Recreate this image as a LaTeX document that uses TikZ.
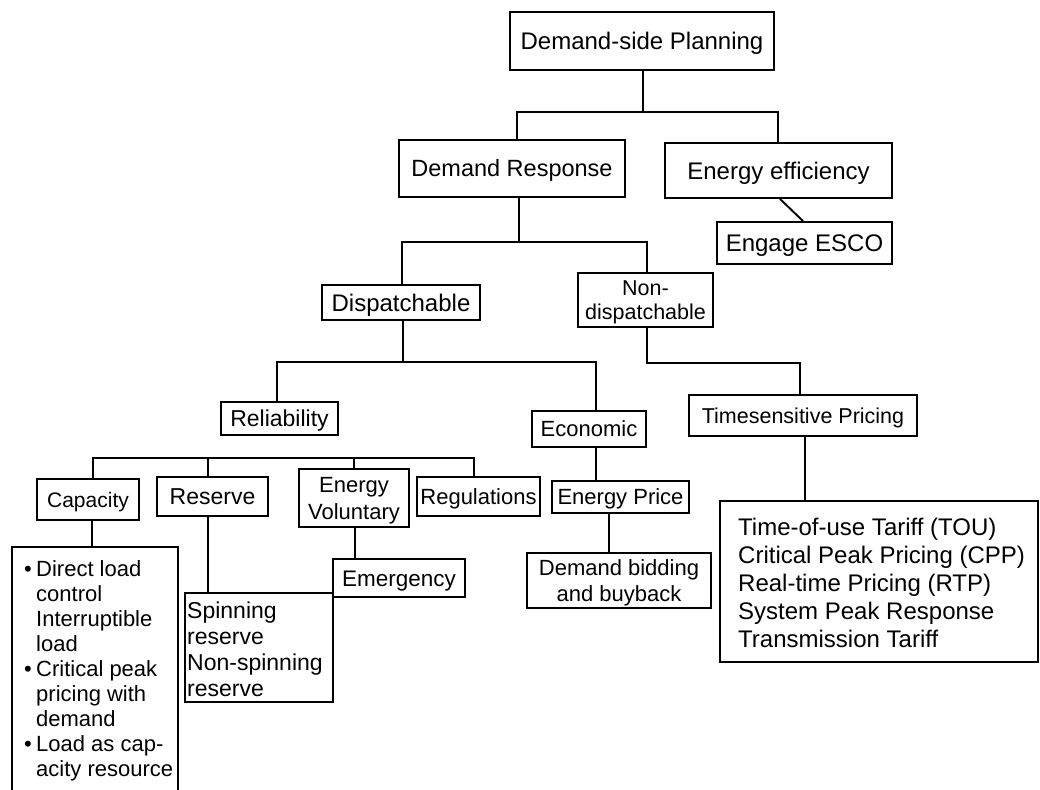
\documentclass[tikz,border=0pt]{standalone}
\usepackage{fontspec}
\setmainfont{Liberation Sans}
\newcommand\fsz[2]{\fontsize{#1pt}{#2pt}\selectfont}
\tikzset{
  conn/.style={line width=1.9pt},
  box/.style={draw, line width=1.9pt, inner sep=0pt, align=center, font=\fsz{#1}{#1}, text height={#1*0.72pt}, text depth=0pt},
  box2/.style n args={2}{draw, line width=1.9pt, inner sep=0pt, align=center, font=\fsz{#1}{#2}, text height={#1*0.72pt+#2*1pt}, text depth=0pt},
  frame/.style={draw, line width=1.9pt, inner sep=0pt},
  listtext/.style n args={3}{inner sep=0pt, align=left, anchor=north west, font=\fsz{#1}{#2}, text height={#1*0.72pt+(#3-1)*#2*1pt}, text depth=0pt}
}
\begin{document}
\begin{tikzpicture}[x=1pt,y=-1pt]
\fill[white] (0,0) rectangle (1040,789);
\useasboundingbox (0,0) rectangle (1040,789);

% boxes
\node[box=24, minimum width=264pt, minimum height=58pt] (dsp) at (642,41) {Demand-side Planning};
\node[box=23.5, minimum width=226pt, minimum height=57pt] (dr) at (512,168.5) {Demand Response};
\node[box=24, minimum width=227pt, minimum height=55pt] (ee) at (778.5,170.5) {Energy efficiency};
\node[box=24, minimum width=175pt, minimum height=42pt] (esco) at (804.5,243) {Engage ESCO};
\node[box=24, minimum width=158pt, minimum height=35pt] (disp) at (401,302.5) {Dispatchable};
\node[box2={21.5}{24}, minimum width=135pt, minimum height=54pt] (nondisp) at (645.5,300) {Non-\\dispatchable};
\node[box=23, minimum width=117pt, minimum height=33pt] (rel) at (279.5,418.5) {Reliability};
\node[box=22, minimum width=114pt, minimum height=36pt] (eco) at (589,429) {Economic};
\node[box=21.5, minimum width=228pt, minimum height=41pt] (tsp) at (803,415.5) {Timesensitive Pricing};
\node[box=21, minimum width=102pt, minimum height=41pt] (cap) at (88,499.5) {Capacity};
\node[box=23, minimum width=111pt, minimum height=39pt] (res) at (212.5,496.5) {Reserve};
\node[box2={22}{27}, minimum width=110pt, minimum height=58pt] (ev) at (354,498) {Energy\\Voluntary};
\node[box=22, minimum width=123pt, minimum height=39pt] (reg) at (478.5,496.5) {Regulations};
\node[box=22, minimum width=137pt, minimum height=32pt] (ep) at (620.5,497) {Energy Price};
\node[box2={22}{26}, minimum width=184pt, minimum height=55pt] (dbb) at (619,580.5) {Demand bidding\\and buyback};

% list boxes
\node[frame, minimum width=166pt, minimum height=248pt] (capl) at (95,671) {};
\node[listtext={22}{25}{9}] (capt) at (24,560) {\makebox[12pt][l]{•}Direct load\\\hspace*{12pt}control\\\hspace*{12pt}Interruptible\\\hspace*{12pt}load\\\makebox[12pt][l]{•}Critical peak\\\hspace*{12pt}pricing with\\\hspace*{12pt}demand\\\makebox[12pt][l]{•}Load as cap-\\\hspace*{12pt}acity resource};
\node[frame, minimum width=148pt, minimum height=109pt] (spin) at (259,647.5) {};
\node[listtext={23}{26}{4}] (spint) at (187,601.7) {Spinning\\reserve\\Non-spinning\\reserve};
\node[box=22.5, fill=white, minimum width=132pt, minimum height=38pt] (emer) at (399,578) {Emergency};
\node[frame, minimum width=318pt, minimum height=161pt] (tsl) at (879,581.5) {};
\node[listtext={24}{28}{5}] (tslt) at (738,518.4) {Time-of-use Tariff (TOU)\\Critical Peak Pricing (CPP)\\Real-time Pricing (RTP)\\System Peak Response\\Transmission Tariff};

% connectors
\coordinate (j1) at (643,112);
\draw[conn] (dsp.south -| j1) -- (j1);
\draw[conn] (dr.north -| 517,0) |- (j1) -| (ee.north -| 778,0);
\draw[conn] (ee.south -| 780,0) -- (esco.north -| 803,0);

\coordinate (j2) at (519,242);
\draw[conn] (dr.south -| j2) -- (j2);
\draw[conn] (disp.north -| 402,0) |- (j2) -| (nondisp.north -| 647,0);

\coordinate (j3) at (403,362);
\draw[conn] (disp.south -| j3) -- (j3);
\draw[conn] (rel.north -| 277,0) |- (j3) -| (eco.north -| 596,0);

\coordinate (j4) at (647,363);
\draw[conn] (nondisp.south -| j4) -- (j4) -| (tsp.north -| 800,0);

\coordinate (h1) at (93,458);
\coordinate (h2) at (474,458);
\draw[conn] (cap.north -| h1) -- (h1) -- (h2) -- (reg.north -| h2);
\draw[conn] (res.north -| 208,0) -- (208,0 |- h1);
\draw[conn] (ev.north -| 354,0) -- (354,0 |- h1);

\draw[conn] (eco.south -| 596,0) -- (ep.north -| 596,0);
\draw[conn] (ep.south -| 609,0) -- (dbb.north -| 609,0);
\draw[conn] (tsp.south -| 805,0) -- (tsl.north -| 805,0);
\draw[conn] (cap.south -| 92,0) -- (capl.north -| 92,0);
\draw[conn] (res.south -| 208,0) -- (spin.north -| 208,0);
\draw[conn] (ev.south -| 355,0) -- (emer.north -| 355,0);
\end{tikzpicture}
\end{document}
